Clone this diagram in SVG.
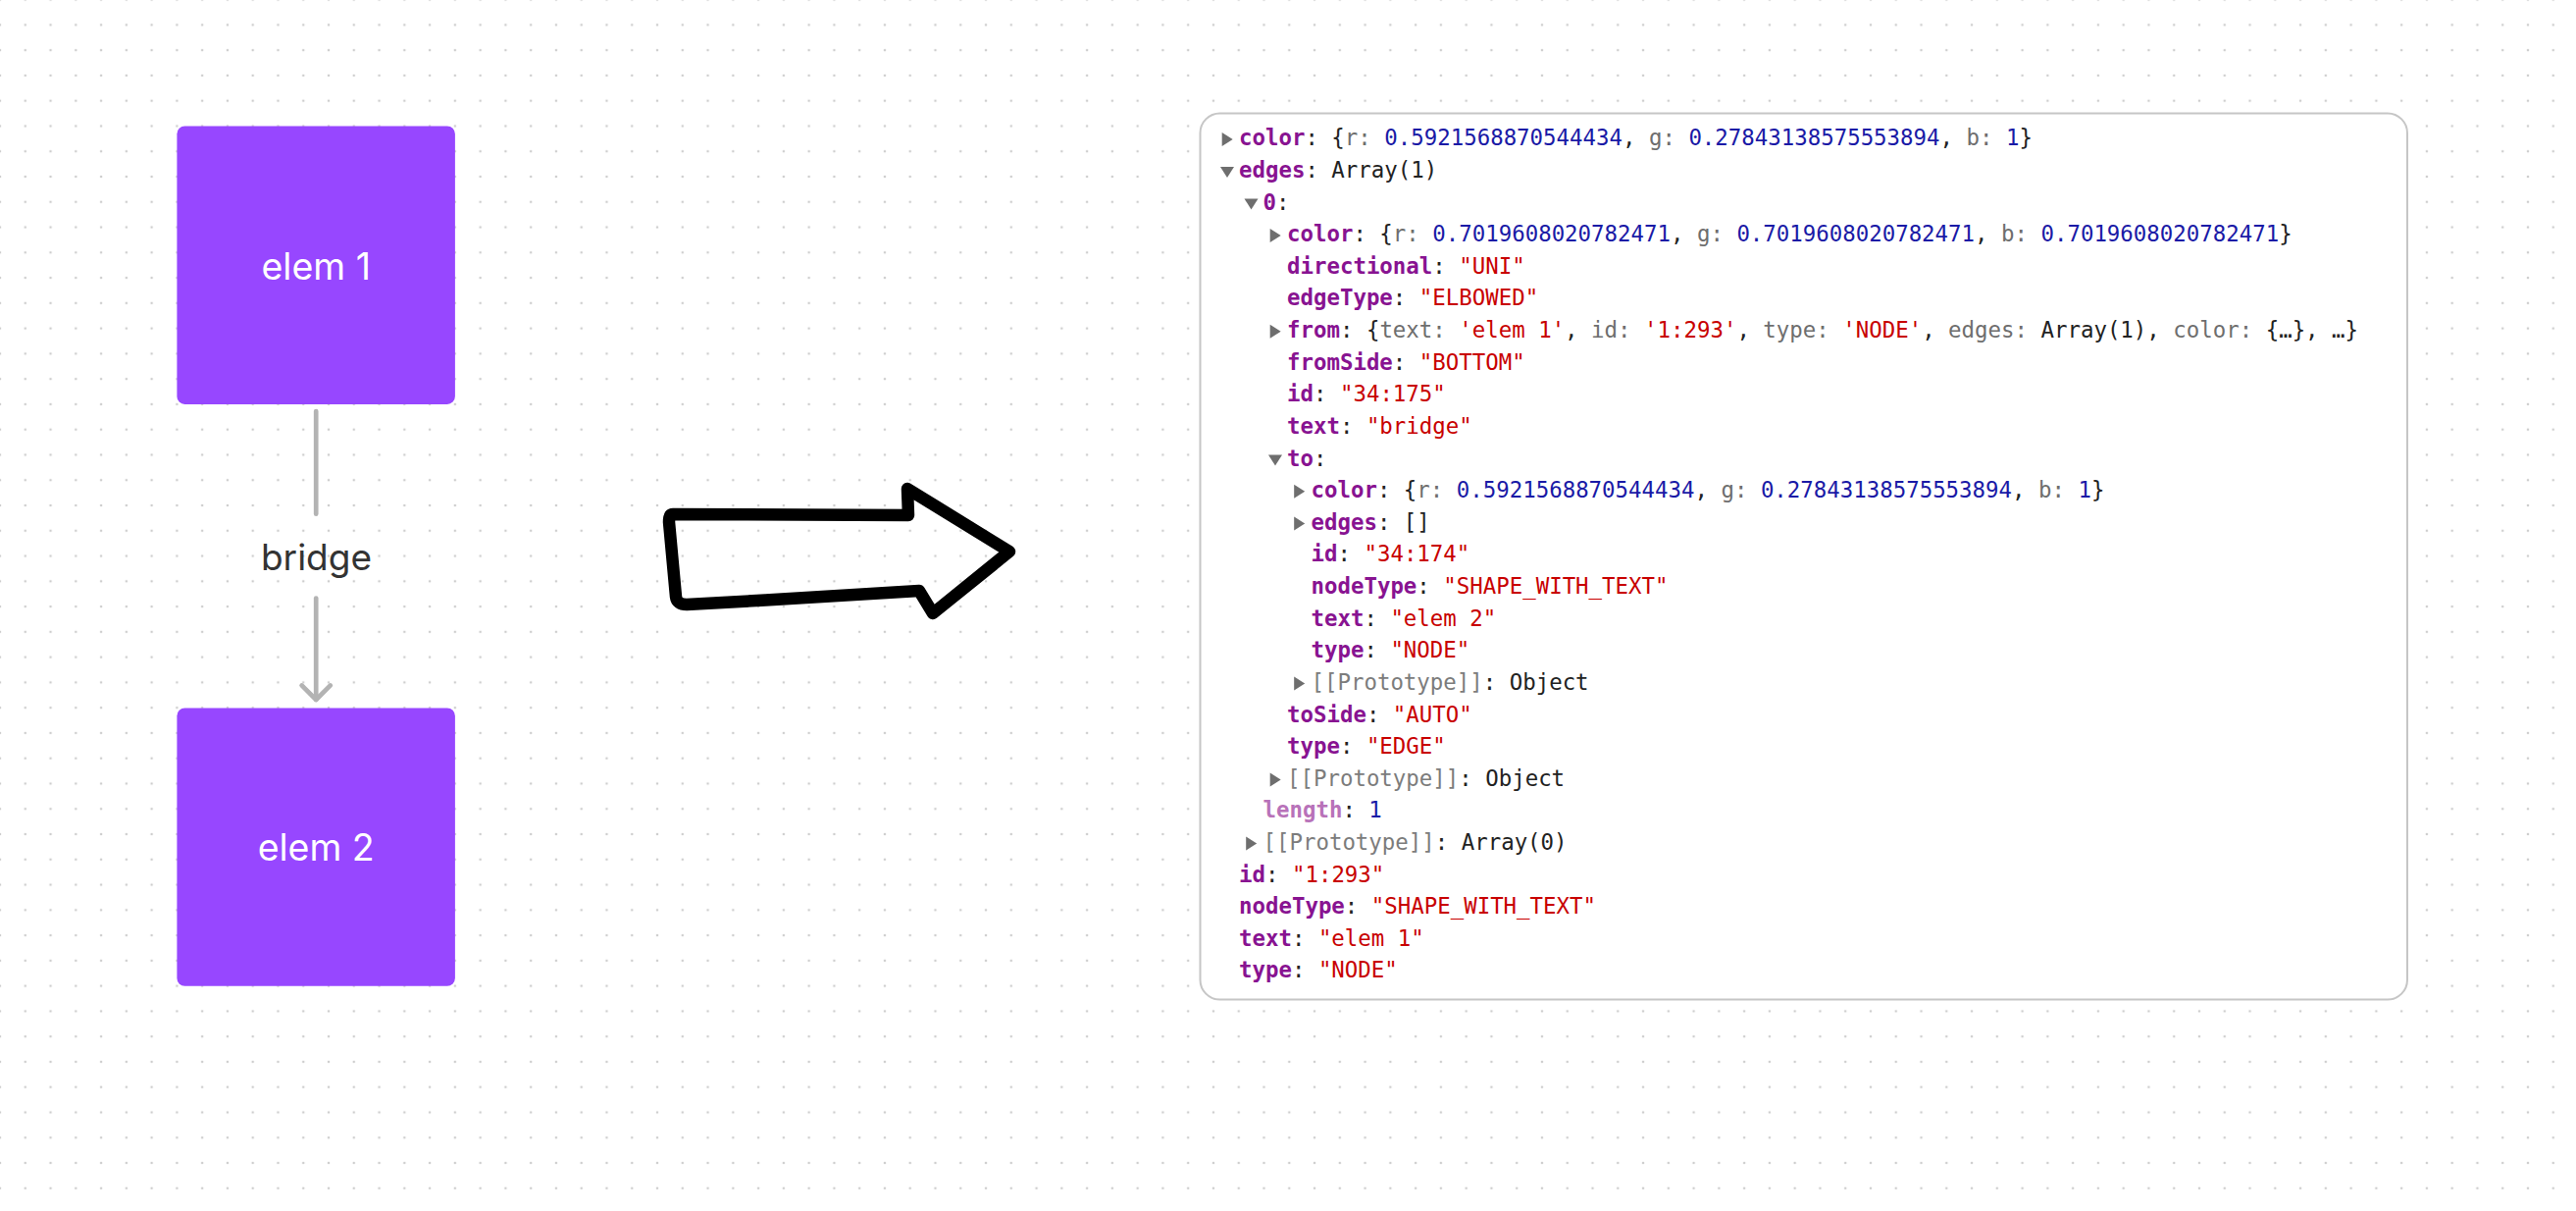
<svg xmlns="http://www.w3.org/2000/svg" width="2626" height="1234" viewBox="0 0 2626 1234">
<style>
.box{fill:#9747FF}
.lbl{font-family:Inter,"Noto Sans","Liberation Sans",sans-serif;fill:#ffffff;font-size:37.5px;text-anchor:middle}
.elbl{font-family:Inter,"Noto Sans","Liberation Sans",sans-serif;fill:#333333;font-size:37px;text-anchor:middle}
.edge{fill:none;stroke:#B3B3B3;stroke-width:4.7;stroke-linecap:round;stroke-linejoin:round}
.c{font-family:"DejaVu Sans Mono","Liberation Mono",monospace;font-size:22.4px;fill:#222222}
.k{fill:#881391;font-weight:bold}
.l{fill:#b872b9;font-weight:bold}
.s{fill:#c80000}
.n{fill:#1a1aa6}
.g{fill:#6e6e6e}
.i{fill:#7c7c7c}
.tri{fill:#6e6e6e}
</style>
<defs>
<pattern id="dots" x="-12.885" y="-13.285" width="25.77" height="25.77" patternUnits="userSpaceOnUse">
<circle cx="12.885" cy="12.885" r="1.3" fill="#cecece"/>
</pattern>
<marker id="chev" markerUnits="userSpaceOnUse" markerWidth="40" markerHeight="40" viewBox="-20 -20 40 40" refX="0" refY="0" orient="auto" overflow="visible">
<path d="M-14.6,-14.6 L0,0 L-14.6,14.6" fill="none" stroke="#B3B3B3" stroke-width="4.7" stroke-linecap="round" stroke-linejoin="round"/>
</marker>
<path id="tr" d="M0,-13.3 L11,-6.3 L0,0.7 Z"/>
<path id="td" d="M0,-11 L14,-11 L7,0 Z"/>
</defs>
<rect width="2626" height="1234" fill="#ffffff"/>
<rect width="2626" height="1234" fill="url(#dots)"/>

<g id="connectors">
<path class="edge" d="M322.2,419 L322.2,523.7"/>
<path class="edge" d="M322.2,609.6 L322.2,713" marker-end="url(#chev)"/>
<text class="elbl" x="322.5" y="581">bridge</text>
</g>

<g id="elem-1">
<rect class="box" x="180.4" y="128.4" width="283.5" height="283.5" rx="8"/>
<text class="lbl" x="322.2" y="285">elem 1</text>
</g>

<g id="elem-2">
<rect class="box" x="180.4" y="721.4" width="283.5" height="283.4" rx="8"/>
<text class="lbl" x="322.2" y="877">elem 2</text>
</g>

<g id="transform-arrow">
<path d="M686,524 L926,525 L925,498 L1029,562 L951,625 L937,602 C880,605 780,612 700,616 Q690,616 689,608 L682,532 Q682,524 686,524 Z" fill="none" stroke="#000000" stroke-width="12.5" stroke-linejoin="round" stroke-linecap="round"/>
</g>

<g id="console-panel">
<rect x="1223.5" y="115.5" width="1230.5" height="903" rx="20" fill="#ffffff" stroke="#c6c6c6" stroke-width="2"/>
<g class="tri">
<use href="#tr" x="1245.7" y="148.3"/>
<use href="#td" x="1244" y="180.9"/>
<use href="#td" x="1268.5" y="213.5"/>
<use href="#tr" x="1294.7" y="246.2"/>
<use href="#tr" x="1294.7" y="344.0"/>
<use href="#td" x="1293" y="474.5"/>
<use href="#tr" x="1319.2" y="507.1"/>
<use href="#tr" x="1319.2" y="539.7"/>
<use href="#tr" x="1319.2" y="702.8"/>
<use href="#tr" x="1294.7" y="800.7"/>
<use href="#tr" x="1270.2" y="865.9"/>
</g>
<g class="c">
<text x="1263" y="148.3"><tspan class="k">color</tspan>: {<tspan class="g">r:</tspan> <tspan class="n">0.5921568870544434</tspan>, <tspan class="g">g:</tspan> <tspan class="n">0.27843138575553894</tspan>, <tspan class="g">b:</tspan> <tspan class="n">1</tspan>}</text>
<text x="1263" y="180.9"><tspan class="k">edges</tspan>: Array(1)</text>
<text x="1287.5" y="213.5"><tspan class="k">0</tspan>:</text>
<text x="1312" y="246.2"><tspan class="k">color</tspan>: {<tspan class="g">r:</tspan> <tspan class="n">0.7019608020782471</tspan>, <tspan class="g">g:</tspan> <tspan class="n">0.7019608020782471</tspan>, <tspan class="g">b:</tspan> <tspan class="n">0.7019608020782471</tspan>}</text>
<text x="1312" y="278.8"><tspan class="k">directional</tspan>: <tspan class="s">"UNI"</tspan></text>
<text x="1312" y="311.4"><tspan class="k">edgeType</tspan>: <tspan class="s">"ELBOWED"</tspan></text>
<text x="1312" y="344.0"><tspan class="k">from</tspan>: {<tspan class="g">text:</tspan> <tspan class="s">'elem 1'</tspan>, <tspan class="g">id:</tspan> <tspan class="s">'1:293'</tspan>, <tspan class="g">type:</tspan> <tspan class="s">'NODE'</tspan>, <tspan class="g">edges:</tspan> Array(1), <tspan class="g">color:</tspan> {…}, …}</text>
<text x="1312" y="376.6"><tspan class="k">fromSide</tspan>: <tspan class="s">"BOTTOM"</tspan></text>
<text x="1312" y="409.3"><tspan class="k">id</tspan>: <tspan class="s">"34:175"</tspan></text>
<text x="1312" y="441.9"><tspan class="k">text</tspan>: <tspan class="s">"bridge"</tspan></text>
<text x="1312" y="474.5"><tspan class="k">to</tspan>:</text>
<text x="1336.5" y="507.1"><tspan class="k">color</tspan>: {<tspan class="g">r:</tspan> <tspan class="n">0.5921568870544434</tspan>, <tspan class="g">g:</tspan> <tspan class="n">0.27843138575553894</tspan>, <tspan class="g">b:</tspan> <tspan class="n">1</tspan>}</text>
<text x="1336.5" y="539.7"><tspan class="k">edges</tspan>: []</text>
<text x="1336.5" y="572.4"><tspan class="k">id</tspan>: <tspan class="s">"34:174"</tspan></text>
<text x="1336.5" y="605.0"><tspan class="k">nodeType</tspan>: <tspan class="s">"SHAPE_WITH_TEXT"</tspan></text>
<text x="1336.5" y="637.6"><tspan class="k">text</tspan>: <tspan class="s">"elem 2"</tspan></text>
<text x="1336.5" y="670.2"><tspan class="k">type</tspan>: <tspan class="s">"NODE"</tspan></text>
<text x="1336.5" y="702.8"><tspan class="i">[[Prototype]]</tspan>: Object</text>
<text x="1312" y="735.5"><tspan class="k">toSide</tspan>: <tspan class="s">"AUTO"</tspan></text>
<text x="1312" y="768.1"><tspan class="k">type</tspan>: <tspan class="s">"EDGE"</tspan></text>
<text x="1312" y="800.7"><tspan class="i">[[Prototype]]</tspan>: Object</text>
<text x="1287.5" y="833.3"><tspan class="l">length</tspan>: <tspan class="n">1</tspan></text>
<text x="1287.5" y="865.9"><tspan class="i">[[Prototype]]</tspan>: Array(0)</text>
<text x="1263" y="898.6"><tspan class="k">id</tspan>: <tspan class="s">"1:293"</tspan></text>
<text x="1263" y="931.2"><tspan class="k">nodeType</tspan>: <tspan class="s">"SHAPE_WITH_TEXT"</tspan></text>
<text x="1263" y="963.8"><tspan class="k">text</tspan>: <tspan class="s">"elem 1"</tspan></text>
<text x="1263" y="996.4"><tspan class="k">type</tspan>: <tspan class="s">"NODE"</tspan></text>
</g>
</g>
</svg>
